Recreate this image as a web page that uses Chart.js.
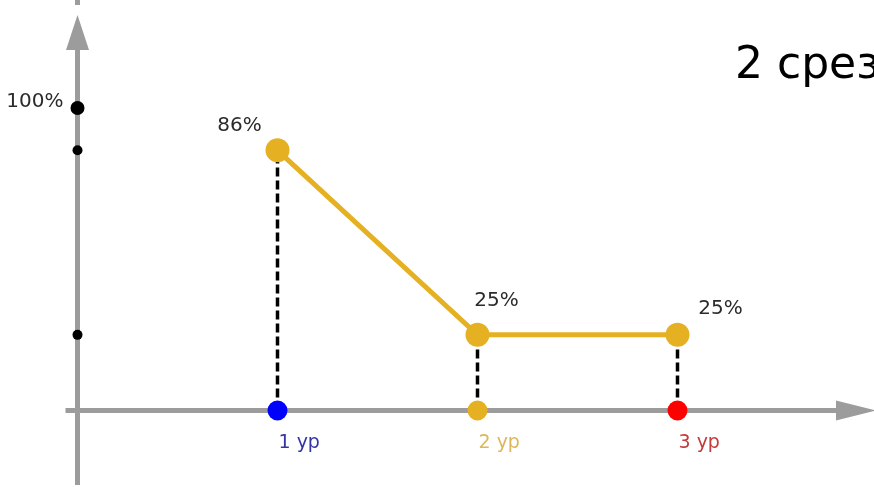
<!DOCTYPE html>
<html>
<head>
<meta charset="utf-8">
<script src="https://cdn.jsdelivr.net/npm/chart.js@4/dist/chart.umd.min.js"></script>
<style>
  body { margin: 0; background: #fff; }
  #wrap { position: relative; width: 874px; height: 487px; overflow: hidden; }
  #title { position: absolute; left: 735px; top: 37px; font: 44px "DejaVu Sans", sans-serif; color: #000; white-space: nowrap; }
</style>
</head>
<body>
<div id="wrap">
  <canvas id="chart" width="874" height="487"></canvas>
  <div id="title">2 срез</div>
</div>
<script>
const levels = ['1 ур', '2 ур', '3 ур'];
const shares = [86, 25, 25];
const levelColors = ['#0000ff', '#e5b021', '#ff0000'];
const levelTextColors = ['#3535a8', '#dcb85a', '#c33b3d'];
const axisMarks = [100, 86, 25];
const axisMarkLabels = ['100%', '', ''];

const gold = '#e5b021';
const axisGray = '#9c9c9c';

// where each share label sits relative to its point
const shareLabelOffsets = [[-38, -25], [19, -34], [43, -26]];

function arrow(ctx, tipX, tipY, dx, dy, len, half) {
    // dx/dy: unit direction the arrow points to
    const bx = tipX - dx * len, by = tipY - dy * len;
    ctx.beginPath();
    ctx.moveTo(tipX, tipY);
    ctx.lineTo(bx - dy * half, by + dx * half);
    ctx.lineTo(bx + dy * half, by - dx * half);
    ctx.closePath();
    ctx.fill();
}

const axesPlugin = {
    id: 'axes',
    beforeDatasetsDraw(chart) {
        const { ctx, chartArea, scales: { x, y } } = chart;
        const x0 = x.getPixelForValue(0);
        const y0 = y.getPixelForValue(0);
        ctx.save();
        ctx.strokeStyle = axisGray;
        ctx.fillStyle = axisGray;
        ctx.lineWidth = 5;
        // vertical axis
        ctx.beginPath();
        ctx.moveTo(x0, chartArea.top);
        ctx.lineTo(x0, chartArea.top + 5);
        ctx.moveTo(x0, chartArea.top + 40);
        ctx.lineTo(x0, chartArea.bottom - 2);
        ctx.stroke();
        arrow(ctx, x0, chartArea.top + 15, 0, -1, 35, 11.5);
        // horizontal axis
        ctx.beginPath();
        ctx.moveTo(x0 - 12, y0);
        ctx.lineTo(chartArea.right - 30, y0);
        ctx.stroke();
        arrow(ctx, chartArea.right + 2, y0, 1, 0, 40, 10);
        ctx.restore();
    },
    afterDatasetsDraw(chart) {
        const { ctx, scales: { x, y } } = chart;
        ctx.save();
        ctx.textBaseline = 'middle';
        // share labels
        ctx.font = '20px "DejaVu Sans", sans-serif';
        ctx.fillStyle = '#2b2b2b';
        ctx.textAlign = 'center';
        shares.forEach((v, i) => {
            const [ox, oy] = shareLabelOffsets[i];
            ctx.fillText(v + '%', x.getPixelForValue(i + 1) + ox, y.getPixelForValue(v) + oy);
        });
        // level labels under the baseline
        ctx.font = '19px "DejaVu Sans", sans-serif';
        ctx.textAlign = 'left';
        levels.forEach((name, i) => {
            ctx.fillStyle = levelTextColors[i];
            ctx.fillText(name, x.getPixelForValue(i + 1) + 1, y.getPixelForValue(0) + 33);
        });
        // labels on the vertical axis
        ctx.font = '20px "DejaVu Sans", sans-serif';
        ctx.fillStyle = '#2b2b2b';
        ctx.textAlign = 'right';
        axisMarks.forEach((v, i) => {
            if (axisMarkLabels[i]) {
                ctx.fillText(axisMarkLabels[i], x.getPixelForValue(0) - 14, y.getPixelForValue(v) - 6);
            }
        });
        ctx.restore();
    }
};

const drops = levels.map((name, i) => ({
    data: [{ x: i + 1, y: 0 }, { x: i + 1, y: shares[i] }],
    borderColor: '#000',
    borderWidth: 3.5,
    borderDash: [9, 4],
    pointRadius: 0,
    clip: false,
    order: 3
}));

new Chart(document.getElementById('chart'), {
    type: 'line',
    data: {
        datasets: [
            {
                data: shares.map((v, i) => ({ x: i + 1, y: v })),
                borderColor: gold,
                borderWidth: 5,
                pointRadius: 12,
                pointBackgroundColor: gold,
                pointBorderWidth: 0,
                clip: false,
                order: 1
            },
            {
                data: levels.map((name, i) => ({ x: i + 1, y: 0 })),
                showLine: false,
                pointRadius: 10,
                pointBackgroundColor: levelColors,
                pointBorderWidth: 0,
                clip: false,
                order: 2
            },
            {
                data: axisMarks.map(v => ({ x: 0, y: v })),
                showLine: false,
                pointRadius: [7, 5, 5],
                pointBackgroundColor: '#000',
                pointBorderWidth: 0,
                clip: false,
                order: 0
            },
            ...drops
        ]
    },
    options: {
        responsive: false,
        animation: false,
        events: [],
        layout: { padding: 0, autoPadding: false },
        plugins: {
            legend: { display: false },
            tooltip: { enabled: false }
        },
        scales: {
            x: { type: 'linear', min: -0.3875, max: 3.9825, display: false },
            y: { type: 'linear', min: -25.3, max: 135.7, display: false }
        }
    },
    plugins: [axesPlugin]
});
</script>
</body>
</html>
